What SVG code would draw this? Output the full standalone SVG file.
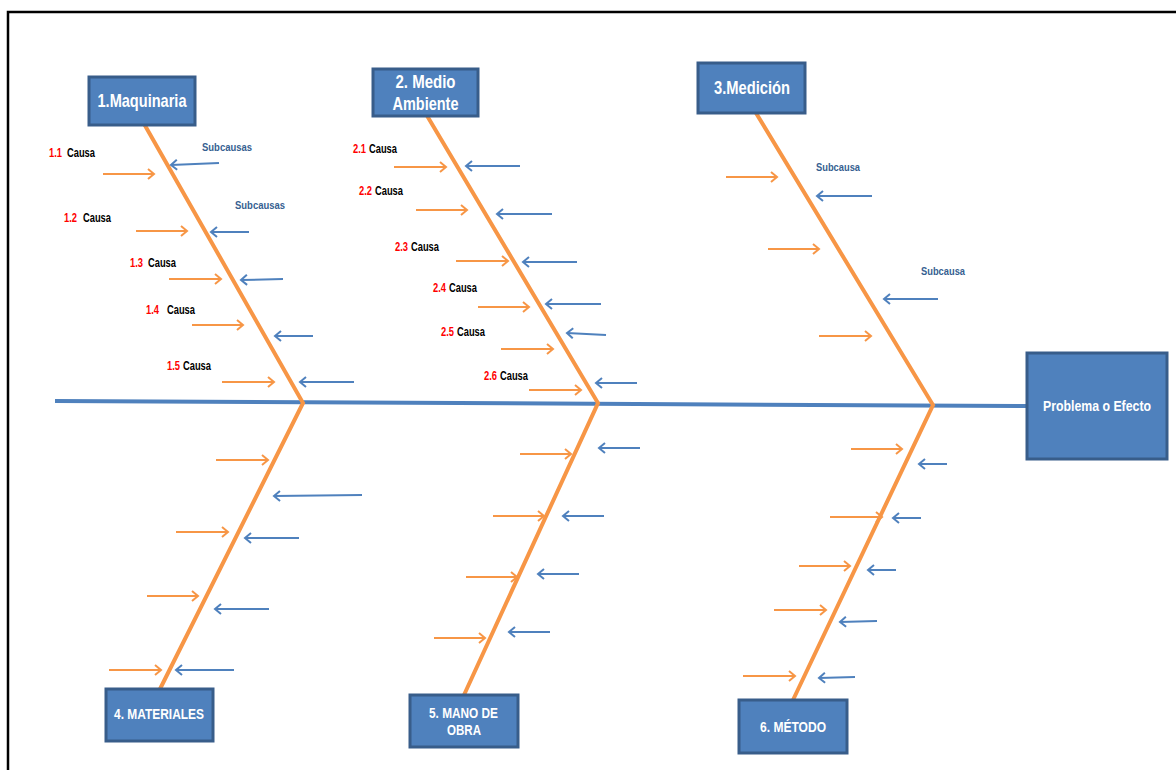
<svg xmlns="http://www.w3.org/2000/svg" width="1176" height="770" viewBox="0 0 1176 770">
<style>
.box{fill:#4F81BD;stroke:#385D8A;stroke-width:3}
.bt{fill:#FFFFFF;font-family:"Liberation Sans",Arial,sans-serif;font-weight:bold;text-anchor:middle}
.bone{stroke:#F79646;stroke-width:4;fill:none;stroke-linecap:round}
.spine{stroke:#4F81BD;stroke-width:4;fill:none}
.ao{stroke:#F79646;stroke-width:2;fill:none;marker-end:url(#mo)}
.ab{stroke:#4F81BD;stroke-width:2;fill:none;marker-end:url(#mb)}
.lbl{font-family:"Liberation Sans",Arial,sans-serif;font-weight:bold;font-size:12px}
.num{fill:#FF0000}
.ca{fill:#000000}
.sub{fill:#365F91;font-family:"Liberation Sans",Arial,sans-serif;font-weight:bold;font-size:11.5px}
</style>
<defs>
<marker id="mo" markerWidth="12" markerHeight="12" refX="9" refY="6" orient="auto" markerUnits="userSpaceOnUse"><path d="M3,1 L9,6 L3,11" fill="none" stroke="#F79646" stroke-width="2"/></marker>
<marker id="mb" markerWidth="12" markerHeight="12" refX="9" refY="6" orient="auto" markerUnits="userSpaceOnUse"><path d="M3,1 L9,6 L3,11" fill="none" stroke="#4F81BD" stroke-width="2"/></marker>
</defs>
<rect width="1176" height="770" fill="#FFFFFF"/>
<path d="M8,770 L8,12 L1176,12" fill="none" stroke="#000000" stroke-width="2.5"/>

<g id="connectors">
<path class="spine" d="M55,401 L1027,406"/>
<path class="bone" d="M143,122 L303,403 L160,689"/>
<path class="bone" d="M426,114 L598,403 L464,695"/>
<path class="bone" d="M756,113 L933,405 L793,700"/>
<!-- bone 1 -->
<line class="ao" x1="103" y1="174" x2="154" y2="174"/>
<line class="ao" x1="136" y1="231" x2="187" y2="231"/>
<line class="ao" x1="169" y1="279" x2="221" y2="279"/>
<line class="ao" x1="192" y1="325" x2="243" y2="325"/>
<line class="ao" x1="222" y1="382" x2="274" y2="382"/>
<line class="ab" x1="219" y1="163" x2="171" y2="165"/>
<line class="ab" x1="249" y1="232" x2="211" y2="232"/>
<line class="ab" x1="283" y1="279" x2="241" y2="280"/>
<line class="ab" x1="313" y1="336" x2="275" y2="336"/>
<line class="ab" x1="354" y1="382" x2="300" y2="382"/>
<!-- bone 2 -->
<line class="ao" x1="394" y1="167" x2="446" y2="167"/>
<line class="ao" x1="416" y1="210" x2="467" y2="210"/>
<line class="ao" x1="456" y1="261" x2="508" y2="261"/>
<line class="ao" x1="478" y1="307" x2="529" y2="307"/>
<line class="ao" x1="501" y1="349" x2="553" y2="349"/>
<line class="ao" x1="529" y1="390" x2="581" y2="390"/>
<line class="ab" x1="520" y1="166" x2="466" y2="166"/>
<line class="ab" x1="552" y1="214" x2="497" y2="214"/>
<line class="ab" x1="577" y1="262" x2="523" y2="262"/>
<line class="ab" x1="601" y1="304" x2="546" y2="304"/>
<line class="ab" x1="606" y1="335" x2="567" y2="333"/>
<line class="ab" x1="637" y1="383" x2="596" y2="383"/>
<!-- bone 3 -->
<line class="ao" x1="726" y1="177" x2="777" y2="177"/>
<line class="ao" x1="768" y1="249" x2="819" y2="249"/>
<line class="ao" x1="819" y1="336" x2="871" y2="336"/>
<line class="ab" x1="872" y1="196" x2="817" y2="196"/>
<line class="ab" x1="938" y1="299" x2="884" y2="299"/>
<!-- bone 4 -->
<line class="ao" x1="216" y1="460" x2="268" y2="460"/>
<line class="ao" x1="176" y1="532" x2="228" y2="532"/>
<line class="ao" x1="147" y1="596" x2="198" y2="596"/>
<line class="ao" x1="109" y1="670" x2="161" y2="670"/>
<line class="ab" x1="362" y1="495" x2="274" y2="496"/>
<line class="ab" x1="299" y1="538" x2="245" y2="538"/>
<line class="ab" x1="269" y1="609" x2="215" y2="609"/>
<line class="ab" x1="234" y1="670" x2="176" y2="670"/>
<!-- bone 5 -->
<line class="ao" x1="520" y1="454" x2="571" y2="454"/>
<line class="ao" x1="493" y1="516" x2="544" y2="516"/>
<line class="ao" x1="466" y1="577" x2="517" y2="577"/>
<line class="ao" x1="434" y1="638" x2="485" y2="638"/>
<line class="ab" x1="640" y1="448" x2="599" y2="448"/>
<line class="ab" x1="604" y1="516" x2="563" y2="516"/>
<line class="ab" x1="579" y1="574" x2="538" y2="574"/>
<line class="ab" x1="550" y1="632" x2="509" y2="632"/>
<!-- bone 6 -->
<line class="ao" x1="851" y1="449" x2="902" y2="449"/>
<line class="ao" x1="830" y1="517" x2="882" y2="517"/>
<line class="ao" x1="799" y1="566" x2="850" y2="566"/>
<line class="ao" x1="774" y1="610" x2="826" y2="610"/>
<line class="ao" x1="743" y1="676" x2="795" y2="676"/>
<line class="ab" x1="947" y1="464" x2="919" y2="464"/>
<line class="ab" x1="921" y1="518" x2="893" y2="518"/>
<line class="ab" x1="896" y1="570" x2="868" y2="570"/>
<line class="ab" x1="877" y1="621" x2="840" y2="622"/>
<line class="ab" x1="855" y1="677" x2="819" y2="678"/>
</g>

<g id="labels">
<text class="lbl num" x="49" y="157" textLength="13" lengthAdjust="spacingAndGlyphs">1.1</text>
<text class="lbl ca" x="67" y="157" textLength="28" lengthAdjust="spacingAndGlyphs">Causa</text>
<text class="lbl num" x="64" y="222" textLength="13" lengthAdjust="spacingAndGlyphs">1.2</text>
<text class="lbl ca" x="83" y="222" textLength="28" lengthAdjust="spacingAndGlyphs">Causa</text>
<text class="lbl num" x="130" y="267" textLength="13" lengthAdjust="spacingAndGlyphs">1.3</text>
<text class="lbl ca" x="148" y="267" textLength="28" lengthAdjust="spacingAndGlyphs">Causa</text>
<text class="lbl num" x="146" y="314" textLength="13" lengthAdjust="spacingAndGlyphs">1.4</text>
<text class="lbl ca" x="167" y="314" textLength="28" lengthAdjust="spacingAndGlyphs">Causa</text>
<text class="lbl num" x="167" y="370" textLength="13" lengthAdjust="spacingAndGlyphs">1.5</text>
<text class="lbl ca" x="183" y="370" textLength="28" lengthAdjust="spacingAndGlyphs">Causa</text>
<text class="sub" x="202" y="151" textLength="50" lengthAdjust="spacingAndGlyphs">Subcausas</text>
<text class="sub" x="235" y="209" textLength="50" lengthAdjust="spacingAndGlyphs">Subcausas</text>

<text class="lbl num" x="353" y="153" textLength="13" lengthAdjust="spacingAndGlyphs">2.1</text>
<text class="lbl ca" x="369" y="153" textLength="28" lengthAdjust="spacingAndGlyphs">Causa</text>
<text class="lbl num" x="359" y="195" textLength="13" lengthAdjust="spacingAndGlyphs">2.2</text>
<text class="lbl ca" x="375" y="195" textLength="28" lengthAdjust="spacingAndGlyphs">Causa</text>
<text class="lbl num" x="395" y="251" textLength="13" lengthAdjust="spacingAndGlyphs">2.3</text>
<text class="lbl ca" x="411" y="251" textLength="28" lengthAdjust="spacingAndGlyphs">Causa</text>
<text class="lbl num" x="433" y="292" textLength="13" lengthAdjust="spacingAndGlyphs">2.4</text>
<text class="lbl ca" x="449" y="292" textLength="28" lengthAdjust="spacingAndGlyphs">Causa</text>
<text class="lbl num" x="441" y="336" textLength="13" lengthAdjust="spacingAndGlyphs">2.5</text>
<text class="lbl ca" x="457" y="336" textLength="28" lengthAdjust="spacingAndGlyphs">Causa</text>
<text class="lbl num" x="484" y="380" textLength="13" lengthAdjust="spacingAndGlyphs">2.6</text>
<text class="lbl ca" x="500" y="380" textLength="28" lengthAdjust="spacingAndGlyphs">Causa</text>

<text class="sub" x="816" y="171" font-size="10.5" textLength="44" lengthAdjust="spacingAndGlyphs">Subcausa</text>
<text class="sub" x="921" y="275" font-size="10.5" textLength="44" lengthAdjust="spacingAndGlyphs">Subcausa</text>
</g>

<g id="node-maquinaria">
<rect class="box" x="89" y="77" width="106" height="48"/>
<text class="bt" x="142" y="107" font-size="19" textLength="89" lengthAdjust="spacingAndGlyphs">1.Maquinaria</text>
</g>
<g id="node-medio-ambiente">
<rect class="box" x="373" y="69" width="105" height="47"/>
<text class="bt" x="425.5" y="88" font-size="18" textLength="60" lengthAdjust="spacingAndGlyphs">2. Medio</text>
<text class="bt" x="425.5" y="110" font-size="18" textLength="66" lengthAdjust="spacingAndGlyphs">Ambiente</text>
</g>
<g id="node-medicion">
<rect class="box" x="698" y="63" width="107" height="50"/>
<text class="bt" x="752" y="94" font-size="19" textLength="76" lengthAdjust="spacingAndGlyphs">3.Medición</text>
</g>
<g id="node-efecto">
<rect class="box" x="1027" y="353" width="140" height="106"/>
<text class="bt" x="1097" y="411" font-size="14.5" textLength="108" lengthAdjust="spacingAndGlyphs">Problema o Efecto</text>
</g>
<g id="node-materiales">
<rect class="box" x="106" y="689" width="107" height="52"/>
<text class="bt" x="159" y="719" font-size="15" textLength="90" lengthAdjust="spacingAndGlyphs">4. MATERIALES</text>
</g>
<g id="node-mano-de-obra">
<rect class="box" x="410" y="695" width="108" height="52"/>
<text class="bt" x="463.5" y="718" font-size="15" textLength="69" lengthAdjust="spacingAndGlyphs">5. MANO DE</text>
<text class="bt" x="464" y="735" font-size="15" textLength="34" lengthAdjust="spacingAndGlyphs">OBRA</text>
</g>
<g id="node-metodo">
<rect class="box" x="739" y="700" width="108" height="53"/>
<text class="bt" x="793" y="732" font-size="15" textLength="66" lengthAdjust="spacingAndGlyphs">6. MÉTODO</text>
</g>
</svg>
